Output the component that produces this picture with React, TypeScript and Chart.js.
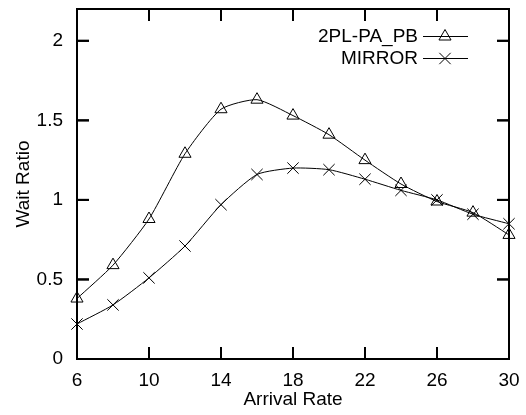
import React, { useEffect, useRef } from "react";
import { Chart, registerables } from "chart.js";

Chart.register(...registerables);

const arrivalRates = [6, 8, 10, 12, 14, 16, 18, 20, 22, 24, 26, 28, 30];
const seriesNames = ["2PL-PA_PB", "MIRROR"];
const pa2plValues = [0.38, 0.59, 0.88, 1.29, 1.57, 1.63, 1.53, 1.41, 1.25, 1.1, 0.99, 0.92, 0.78];
const mirrorValues = [0.22, 0.34, 0.51, 0.71, 0.97, 1.16, 1.2, 1.19, 1.13, 1.06, 1.0, 0.91, 0.85];
const xTicks = [6, 10, 14, 18, 22, 26, 30];
const yTicks = [0, 0.5, 1, 1.5, 2];
const xTitle = "Arrival Rate";
const yTitle = "Wait Ratio";

const FONT = "'Liberation Sans', Arial, sans-serif";

function drawTriangle(ctx: CanvasRenderingContext2D, x: number, y: number, r: number) {
  ctx.beginPath();
  let rad = 0;
  ctx.moveTo(x + Math.sin(rad) * r, y - Math.cos(rad) * r);
  rad += (2 * Math.PI) / 3;
  ctx.lineTo(x + Math.sin(rad) * r, y - Math.cos(rad) * r);
  rad += (2 * Math.PI) / 3;
  ctx.lineTo(x + Math.sin(rad) * r, y - Math.cos(rad) * r);
  ctx.closePath();
  ctx.stroke();
}

function drawX(ctx: CanvasRenderingContext2D, x: number, y: number, r: number) {
  const o = r * Math.SQRT1_2;
  ctx.beginPath();
  ctx.moveTo(x - o, y - o);
  ctx.lineTo(x + o, y + o);
  ctx.moveTo(x - o, y + o);
  ctx.lineTo(x + o, y - o);
  ctx.stroke();
}

function drawFrame(chart: any) {
  const ctx: CanvasRenderingContext2D = chart.ctx;
  const area = chart.chartArea;
  const xs = chart.scales.x;
  const ys = chart.scales.y;
  const L = area.left;
  const R = area.right;
  const T = area.top;
  const B = area.bottom;
  ctx.save();
  ctx.fillStyle = "#000";
  ctx.strokeStyle = "#000";
  ctx.lineWidth = 2;
  ctx.strokeRect(L, T, R - L, B - T);
  const tl = 12;
  xTicks.forEach((v) => {
    const px = xs.getPixelForValue(v);
    ctx.fillRect(px - 1, B - tl, 2, tl);
    ctx.fillRect(px - 1, T, 2, tl);
  });
  yTicks.forEach((v) => {
    const py = ys.getPixelForValue(v);
    ctx.fillRect(L, py - 1, tl, 2);
    ctx.fillRect(R - tl, py - 1, tl, 2);
  });
  ctx.restore();
}

const framePlugin = {
  id: "frameAndLegend",
  beforeDatasetsDraw(chart: any) {
    drawFrame(chart);
  },
  afterDraw(chart: any) {
    drawFrame(chart);
    const ctx: CanvasRenderingContext2D = chart.ctx;
    const area = chart.chartArea;
    ctx.save();
    ctx.strokeStyle = "#000";
    ctx.fillStyle = "#000";
    ctx.font = "19px " + FONT;
    ctx.textAlign = "right";
    ctx.textBaseline = "middle";
    const rows = [36.5, 58.5];
    ctx.lineWidth = 1;
    seriesNames.forEach((name, i) => {
      const y = rows[i];
      ctx.fillText(name, 418, y);
      ctx.beginPath();
      ctx.moveTo(423, y);
      ctx.lineTo(468, y);
      ctx.stroke();
      if (i === 0) drawTriangle(ctx, 445, y, 7);
      else drawX(ctx, 445, y, 8);
    });
    ctx.textAlign = "center";
    ctx.fillText(xTitle, (area.left + area.right) / 2, 400);
    ctx.translate(24, (area.top + area.bottom) / 2);
    ctx.rotate(-Math.PI / 2);
    ctx.fillText(yTitle, 0, 0);
    ctx.restore();
  },
};

export default function App() {
  const ref = useRef<HTMLCanvasElement>(null);
  useEffect(() => {
    if (!ref.current) return;
    const chart = new Chart(ref.current, {
      type: "line",
      data: {
        datasets: [
          {
            label: seriesNames[0],
            data: arrivalRates.map((x, i) => ({ x, y: pa2plValues[i] })),
            borderColor: "#000",
            borderWidth: 1,
            pointStyle: "triangle",
            pointRadius: 7,
            pointBorderWidth: 1,
            pointBorderColor: "#000",
            pointBackgroundColor: "rgba(255,255,255,0)",
            tension: 0.2,
            clip: 10,
          },
          {
            label: seriesNames[1],
            data: arrivalRates.map((x, i) => ({ x, y: mirrorValues[i] })),
            borderColor: "#000",
            borderWidth: 1,
            pointStyle: "crossRot",
            pointRadius: 8,
            pointBorderWidth: 1,
            pointBorderColor: "#000",
            pointBackgroundColor: "rgba(255,255,255,0)",
            tension: 0.2,
            clip: 10,
          },
        ],
      },
      options: {
        animation: false,
        responsive: true,
        maintainAspectRatio: false,
        layout: { padding: { top: 5, right: 17, left: 0, bottom: 0 } },
        plugins: { legend: { display: false } },
        scales: {
          x: {
            type: "linear",
            min: 6,
            max: 30,
            grid: { display: false, drawTicks: false },
            border: { display: true, width: 2, color: "#000" },
            afterFit: (s: any) => {
              s.height = 56;
              s.paddingLeft = 0;
              s.paddingRight = 0;
            },
            afterBuildTicks: (s: any) => {
              s.ticks = xTicks.map((v) => ({ value: v }));
            },
            ticks: {
              padding: 10,
              color: "#000",
              font: { family: FONT, size: 19 },
              maxRotation: 0,
              autoSkip: false,
              callback: (v: any) => String(v),
            },
          },
          y: {
            type: "linear",
            min: 0,
            max: 2.2,
            grid: { display: false, drawTicks: false },
            border: { display: true, width: 2, color: "#000" },
            afterFit: (s: any) => {
              s.width = 77;
              s.paddingTop = 0;
              s.paddingBottom = 0;
            },
            afterBuildTicks: (s: any) => {
              s.ticks = yTicks.map((v) => ({ value: v }));
            },
            ticks: {
              padding: 14,
              color: "#000",
              font: { family: FONT, size: 19 },
              autoSkip: false,
              callback: (v: any) => String(v),
            },
          },
        },
      },
      plugins: [framePlugin],
    });
    return () => chart.destroy();
  }, []);
  return (
    <div style={{ position: "absolute", left: 0, top: 0, width: 526, height: 415, background: "#fff" }}>
      <canvas ref={ref} />
    </div>
  );
}
